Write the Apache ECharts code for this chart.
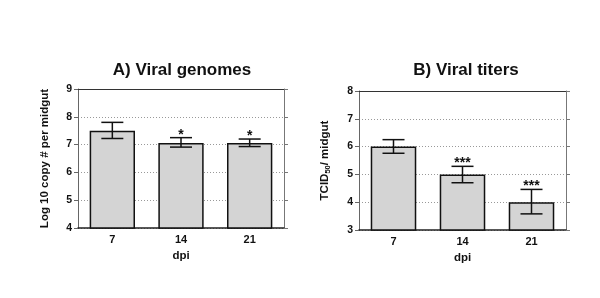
<!DOCTYPE html>
<html>
<head>
<meta charset="utf-8">
<script src="https://cdn.jsdelivr.net/npm/echarts@6/dist/echarts.min.js"></script>
<style>
  html, body { margin: 0; padding: 0; background: #fff; }
  #main { width: 600px; height: 298px; }
</style>
</head>
<body>
<div id="main"></div>
<script>
  // data
  var days = ['7', '14', '21'];
  var genomeMean = [7.5, 7.06, 7.06];
  var genomeHigh = [7.8, 7.25, 7.2];
  var genomeLow = [7.22, 6.91, 6.93];
  var genomeSig = ['', '*', '*'];
  var titerMean = [6.0, 5.0, 4.0];
  var titerHigh = [6.25, 5.29, 4.46];
  var titerLow = [5.76, 4.7, 3.58];
  var titerSig = ['', '***', '***'];

  var myChart = echarts.init(document.getElementById('main'));
  var font = 'Liberation Sans';

  function errData(high, low, sig) {
    return days.map(function (d, i) { return [i, high[i], low[i], sig[i]]; });
  }

  function renderErr(params, api) {
    var top = api.coord([api.value(0), api.value(1)]);
    var bot = api.coord([api.value(0), api.value(2)]);
    var half = 11;
    var st = { stroke: '#111', lineWidth: 1.5 };
    var kids = [
      { type: 'line', shape: { x1: top[0], y1: top[1], x2: bot[0], y2: bot[1] }, style: st },
      { type: 'line', shape: { x1: top[0] - half, y1: top[1], x2: top[0] + half, y2: top[1] }, style: st },
      { type: 'line', shape: { x1: bot[0] - half, y1: bot[1], x2: bot[0] + half, y2: bot[1] }, style: st }
    ];
    var s = api.value(3);
    if (s) {
      kids.push({
        type: 'text',
        style: {
          text: s, x: top[0], y: top[1] + 4, align: 'center', verticalAlign: 'bottom',
          font: 'bold 14px ' + font, fill: '#111'
        }
      });
    }
    return { type: 'group', children: kids };
  }

  function yLeft(gi, min, max, name, rich) {
    return {
      type: 'value', gridIndex: gi, min: min, max: max, interval: 1,
      name: name, nameLocation: 'middle', nameGap: 27, nameRotate: 90,
      nameTextStyle: { fontFamily: font, fontWeight: 'bold', fontSize: 11.5, color: '#111', rich: rich },
      axisLine: { show: true, lineStyle: { color: '#666', width: 1 } },
      axisTick: { show: true, length: 4, lineStyle: { color: '#666' } },
      axisLabel: { fontFamily: font, fontWeight: 'bold', fontSize: 10.5, color: '#111', margin: 6 },
      splitLine: { show: true, lineStyle: { color: '#999', type: [1, 2], width: 1 } }
    };
  }
  function yRight(gi, min, max) {
    return {
      type: 'value', gridIndex: gi, min: min, max: max, interval: 1, position: 'right',
      axisLine: { show: true, lineStyle: { color: '#777', width: 1 } },
      axisTick: { show: true, length: 4, lineStyle: { color: '#777' } },
      axisLabel: { show: false }, splitLine: { show: false }
    };
  }
  function xAxis(gi) {
    return {
      type: 'category', gridIndex: gi, data: days,
      name: 'dpi', nameLocation: 'middle', nameGap: 22,
      nameTextStyle: { fontFamily: font, fontWeight: 'bold', fontSize: 11.5, color: '#111' },
      axisLine: { lineStyle: { color: '#222', width: 1.5 } },
      axisTick: { show: false },
      axisLabel: { fontFamily: font, fontWeight: 'bold', fontSize: 11, color: '#111', margin: 6 }
    };
  }
  function topAxis(gi) {
    return {
      type: 'category', gridIndex: gi, data: days, position: 'top',
      axisLine: { show: true, lineStyle: { color: '#333', width: 1 } },
      axisTick: { show: false }, axisLabel: { show: false }
    };
  }

  var option = {
    animation: false,
    title: [
      { text: 'A) Viral genomes', left: 177, top: 57, textAlign: 'center',
        textStyle: { fontFamily: font, fontWeight: 'bold', fontSize: 17, color: '#111' } },
      { text: 'B) Viral titers', left: 461, top: 57, textAlign: 'center',
        textStyle: { fontFamily: font, fontWeight: 'bold', fontSize: 17, color: '#111' } }
    ],
    grid: [
      { left: 78, top: 89, width: 206, height: 139 },
      { left: 359, top: 91, width: 207, height: 139 }
    ],
    xAxis: [xAxis(0), xAxis(1), topAxis(0), topAxis(1)],
    yAxis: [
      yLeft(0, 4, 9, 'Log 10 copy # per midgut'),
      yLeft(1, 3, 8, '{a|TCID}{s|50}{a|/ midgut}', {
        a: { fontFamily: font, fontWeight: 'bold', fontSize: 11.5, color: '#111' },
        s: { fontFamily: font, fontWeight: 'bold', fontSize: 7.5, color: '#111', verticalAlign: 'bottom', padding: [6, 0, 0, 0] }
      }),
      yRight(0, 4, 9),
      yRight(1, 3, 8)
    ],
    series: [
      { type: 'bar', xAxisIndex: 0, yAxisIndex: 0, data: genomeMean, barWidth: '66%',
        itemStyle: { color: '#d4d4d4', borderColor: '#111', borderWidth: 1.5 } },
      { type: 'custom', xAxisIndex: 0, yAxisIndex: 0, data: errData(genomeHigh, genomeLow, genomeSig),
        renderItem: renderErr, z: 5 },
      { type: 'bar', xAxisIndex: 1, yAxisIndex: 1, data: titerMean, barWidth: '66%',
        itemStyle: { color: '#d4d4d4', borderColor: '#111', borderWidth: 1.5 } },
      { type: 'custom', xAxisIndex: 1, yAxisIndex: 1, data: errData(titerHigh, titerLow, titerSig),
        renderItem: renderErr, z: 5 }
    ]
  };
  myChart.setOption(option);
</script>
</body>
</html>
